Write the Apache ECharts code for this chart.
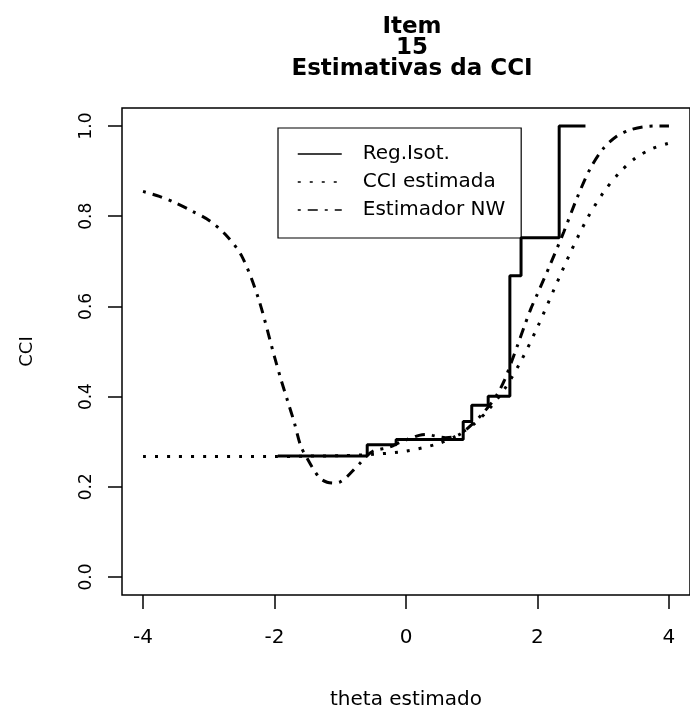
<!DOCTYPE html>
<html>
<head>
<meta charset="utf-8">
<script src="https://cdn.jsdelivr.net/npm/echarts@6/dist/echarts.min.js"></script>
<style>
html,body{margin:0;padding:0;background:#ffffff;}
#chart{width:690px;height:715px;}
</style>
</head>
<body>
<div id="chart"></div>
<script>
// ---- data ----
const seriesNames = ['Reg.Isot.', 'CCI estimada', 'Estimador NW'];

// isotonic regression (step function): value holds from x[i] to x[i+1]
const isoX = [-1.95, -0.59, -0.15, 0.87, 1.00, 1.25, 1.58, 1.75, 2.33, 2.73];
const isoY = [0.268, 0.293, 0.305, 0.345, 0.381, 0.401, 0.668, 0.752, 1.000, 1.000];

// estimated ICC (dotted)
const cciX = [-4, -3.5, -3, -2.5, -2, -1.5, -1, -0.5, 0, 0.5, 0.75, 1, 1.25, 1.5, 1.75, 2, 2.25, 2.5, 2.75, 3, 3.25, 3.5, 3.75, 4];
const cciY = [0.267, 0.267, 0.267, 0.267, 0.267, 0.268, 0.269, 0.272, 0.279, 0.296, 0.312, 0.335, 0.370, 0.417, 0.479, 0.554, 0.637, 0.719, 0.793, 0.852, 0.897, 0.930, 0.950, 0.962];

// Nadaraya-Watson estimator (dot-dash)
const nwX = [-4, -3.75, -3.5, -3.25, -3, -2.75, -2.5, -2.25, -2, -1.9, -1.8, -1.7, -1.6, -1.5, -1.4, -1.3, -1.2, -1.1, -1.0, -0.9, -0.8, -0.7, -0.6, -0.5, -0.4, -0.3, -0.2, -0.1, 0, 0.1, 0.2, 0.3, 0.4, 0.5, 0.6, 0.7, 0.8, 0.9, 1.0, 1.1, 1.2, 1.3, 1.4, 1.5, 1.6, 1.7, 1.8, 1.9, 2.0, 2.2, 2.4, 2.6, 2.8, 3.0, 3.2, 3.4, 3.6, 3.8, 4.0];
const nwY = [0.855, 0.844, 0.829, 0.811, 0.791, 0.760, 0.712, 0.620, 0.488, 0.437, 0.390, 0.343, 0.290, 0.262, 0.237, 0.218, 0.210, 0.208, 0.211, 0.222, 0.237, 0.252, 0.268, 0.279, 0.283, 0.286, 0.291, 0.298, 0.304, 0.309, 0.314, 0.316, 0.314, 0.311, 0.309, 0.310, 0.315, 0.325, 0.338, 0.352, 0.368, 0.386, 0.408, 0.437, 0.475, 0.515, 0.556, 0.595, 0.628, 0.695, 0.765, 0.840, 0.905, 0.950, 0.977, 0.991, 0.998, 1.000, 1.000];

const xTicks = [-4, -2, 0, 2, 4];
const yTicks = [0, 0.2, 0.4, 0.6, 0.8, 1.0];

const titleText = 'Item\n15\nEstimativas da CCI';
const xName = 'theta estimado';
const yName = 'CCI';

// ---- chart ----
const pairs = (xs, ys) => xs.map((x, i) => [x, ys[i]]);
const FONT = 'DejaVu Sans';

const chart = echarts.init(document.getElementById('chart'), null, {renderer: 'canvas'});
chart.setOption({
  animation: false,
  backgroundColor: '#ffffff',
  title: {
    text: titleText,
    left: 412,
    top: 17,
    padding: 0,
    textAlign: 'center',
    textStyle: {fontFamily: FONT, fontWeight: 'bold', fontSize: 23, lineHeight: 21, color: '#000'}
  },
  legend: {
    data: seriesNames,
    orient: 'vertical',
    left: 278,
    top: 128,
    padding: [16, 16, 18, 19],
    itemWidth: 44,
    itemHeight: 14,
    itemGap: 8,
    borderColor: '#000',
    borderWidth: 1.2,
    itemStyle: {opacity: 0},
    lineStyle: {width: 1.5},
    textStyle: {fontFamily: FONT, fontSize: 20, lineHeight: 20, color: '#000', padding: [0, 0, 0, 16]}
  },
  grid: {
    show: true,
    left: 122,
    top: 108,
    width: 581,
    height: 492,
    borderColor: '#000',
    borderWidth: 1.5,
    backgroundColor: 'transparent'
  },
  xAxis: {
    type: 'value',
    min: -4.32,
    max: 4.32,
    name: xName,
    nameLocation: 'middle',
    nameGap: 95,
    nameTextStyle: {fontFamily: FONT, fontSize: 20, color: '#000'},
    axisLine: {show: false, onZero: false},
    splitLine: {show: false},
    axisTick: {show: true, inside: false, customValues: xTicks, length: 14, lineStyle: {color: '#000', width: 1.5}},
    axisLabel: {customValues: xTicks, fontFamily: FONT, fontSize: 20, color: '#000', margin: 33,
      formatter: v => String(v)}
  },
  yAxis: {
    type: 'value',
    min: -0.04,
    max: 1.04,
    name: yName,
    nameLocation: 'middle',
    nameGap: 86,
    nameRotate: 90,
    nameTextStyle: {fontFamily: FONT, fontSize: 18, color: '#000'},
    axisLine: {show: false, onZero: false},
    splitLine: {show: false},
    axisTick: {show: true, inside: false, customValues: yTicks, length: 14, lineStyle: {color: '#000', width: 1.5}},
    axisLabel: {customValues: yTicks, fontFamily: FONT, fontSize: 17, color: '#000', margin: 27, rotate: 90,
      formatter: v => v.toFixed(1)}
  },
  series: [
    {
      name: seriesNames[0],
      type: 'line',
      step: 'end',
      symbol: 'none',
      data: pairs(isoX, isoY),
      lineStyle: {color: '#000', width: 3},
      z: 4
    },
    {
      name: seriesNames[1],
      type: 'line',
      symbol: 'none',
      smooth: 0.3,
      data: pairs(cciX, cciY),
      lineStyle: {color: '#000', width: 3, type: [3, 9]},
      z: 3
    },
    {
      name: seriesNames[2],
      type: 'line',
      symbol: 'none',
      smooth: 0.3,
      data: pairs(nwX, nwY),
      lineStyle: {color: '#000', width: 3, type: [3, 7, 10, 7]},
      z: 3
    }
  ]
});
</script>
</body>
</html>
